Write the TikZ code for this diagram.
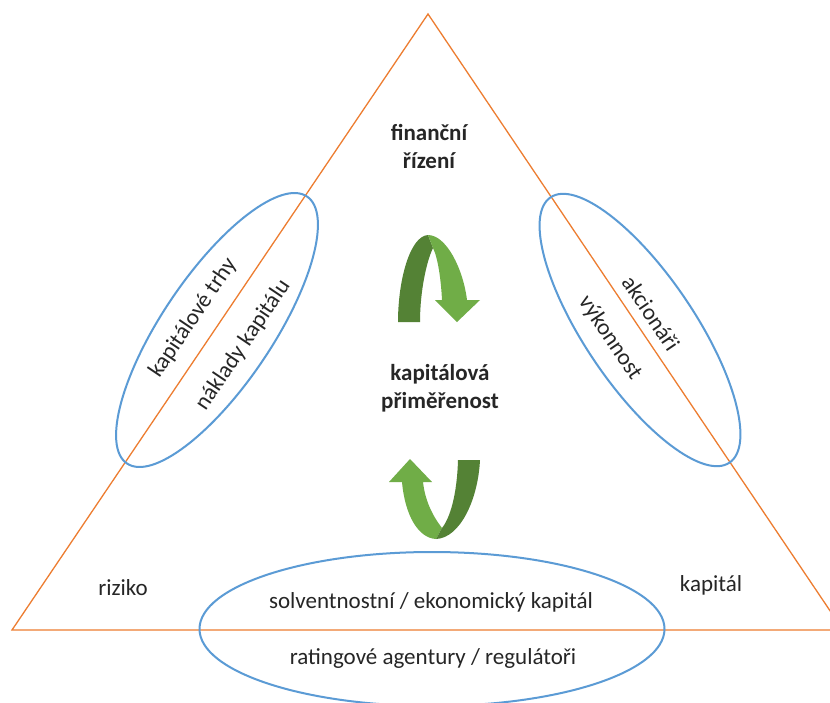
\documentclass[tikz,border=0pt]{standalone}
\usepackage{fontspec}
\setmainfont{Carlito}
\usetikzlibrary{shapes.geometric}
\definecolor{triline}{HTML}{ED7D31}
\definecolor{ringblue}{HTML}{5B9BD5}
\definecolor{greendark}{HTML}{548235}
\definecolor{greenlight}{HTML}{70AD47}
\begin{document}
\begin{tikzpicture}[x=1pt,y=-1pt,
  lbl/.style={font=\fontsize{23}{29}\selectfont, text=black!85, inner sep=0pt, align=center},
  hd/.style={lbl, font=\fontsize{23}{28}\selectfont\bfseries},
  ring/.style={draw=ringblue, line width=2pt, ellipse, inner sep=0pt},
  edge/.style={draw=triline, line width=1.3pt}]
\useasboundingbox (0,0) rectangle (830,702);
\fill[white] (0,0) rectangle (830,702);
\begin{scope}
  \clip (0,0) rectangle (830,702);
  % triangle
  \coordinate (apex) at (428,14);
  \coordinate (bl) at (12,630);
  \coordinate (br) at (843,630);
  \draw[edge, line join=miter] (bl) -- (apex) -- (br) -- cycle;
  % rings on the sides
  \node[ring, minimum width=322, minimum height=110, rotate=56] (eleft) at (217,330) {};
  \node[ring, minimum width=320, minimum height=110, rotate=-56] (eright) at (640,330) {};
  \node[ring, minimum width=465, minimum height=154] (ebottom) at (432,629) {};
\end{scope}

% upper curved arrow
\fill[greendark] (398,322) .. controls (398,280) and (410,236) .. (428,235)
  -- (433,248) .. controls (427,260) and (420,290) .. (420,322) -- cycle;
\fill[greenlight] (428,235) .. controls (446,235) and (463,268) .. (467,300)
  -- (480,300) -- (457,322) -- (435,300) -- (442,300)
  .. controls (441,280) and (438,258) .. (433,248) -- cycle;

% lower curved arrow
\fill[greenlight] (402,482) .. controls (405,515) and (418,538) .. (436,539)
  -- (442,528) .. controls (432,515) and (425,500) .. (423,482)
  -- (432,482) -- (410,459) -- (389,482) -- cycle;
\fill[greendark] (436,539) .. controls (460,538) and (478,500) .. (480,460)
  -- (458,460) .. controls (457,495) and (450,518) .. (442,528) -- cycle;

% labels
\node[hd] (fin) at (429,146) {finanční\\řízení};
\node[hd] (kap) at (440,388) {kapitálová\\přiměřenost};
\node[lbl] (riz) at (123,588) {riziko};
\node[lbl] (kpt) at (711,585) {kapitál};
\node[lbl] (solv) at (431,602) {solventnostní / ekonomický kapitál};
\node[lbl] (rat) at (433,658) {ratingové agentury / regulátoři};
\node[lbl, rotate=56] (trhy) at (193,318) {kapitálové trhy};
\node[lbl, rotate=56] (nakl) at (243,345) {náklady kapitálu};
\node[lbl, rotate=-56] (akc) at (651,313) {akcionáři};
\node[lbl, rotate=-56] (vyk) at (610,338) {výkonnost};
\end{tikzpicture}
\end{document}
